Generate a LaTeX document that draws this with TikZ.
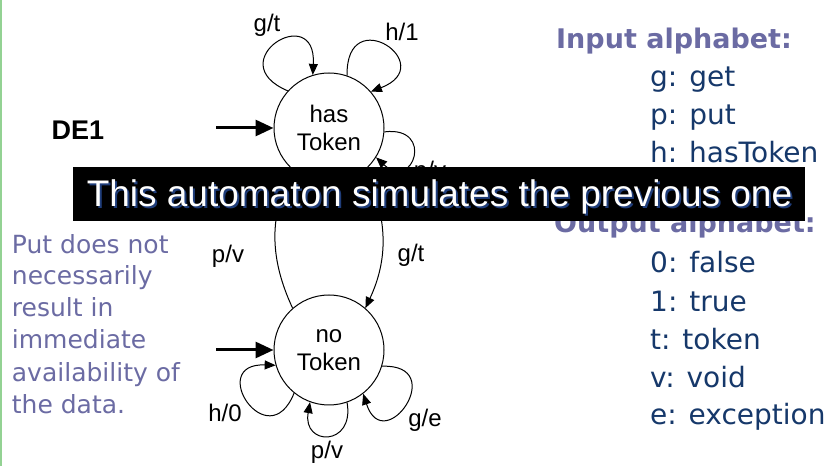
\documentclass[tikz,border=0pt]{standalone}
\usepackage{fontspec}
\usepackage{tikz}
\usetikzlibrary{arrows.meta}

\newfontfamily\arialfont{Liberation Sans}
\newfontfamily\listfont{DejaVu Sans}
\newcommand{\grfont}{\arialfont\fontsize{24}{27.5}\selectfont}
\newcommand{\notefont}{\listfont\fontsize{25}{30}\selectfont}
\newcommand{\itemfont}{\listfont\fontsize{28}{34}\selectfont}
\newcommand{\headfont}{\listfont\bfseries\fontsize{27}{32}\selectfont}
\newcommand{\bannerfont}{\arialfont\fontsize{37}{44}\selectfont}

\definecolor{notepurple}{HTML}{6B6BA3}
\definecolor{itemnavy}{HTML}{16386A}
\definecolor{rulegreen}{HTML}{93D293}
\definecolor{shadownavy}{HTML}{1F3D7A}

\tikzset{
  state/.style={circle,draw,line width=1pt,minimum size=110pt,inner sep=0pt,align=center,font=\grfont},
  trans/.style={-{Triangle[length=11pt,width=9pt]},line width=1pt},
  startarrow/.style={-{Triangle[length=18pt,width=16pt]},line width=3pt},
  lbl/.style={font=\grfont,inner sep=0pt},
  note/.style={font=\notefont,text=notepurple,anchor=base west,inner sep=0pt},
  listhead/.style={font=\headfont,text=notepurple,anchor=base west,inner sep=0pt},
  listitem/.style={font=\itemfont,text=itemnavy,anchor=base west,inner sep=0pt},
}

\begin{document}
\begin{tikzpicture}[x=1pt,y=1pt]
\useasboundingbox (0,0) rectangle (836,466);
\draw[rulegreen,line width=2pt] (1,0) -- (1,466);

\node[font=\arialfont\bfseries\fontsize{27}{32}\selectfont] (name) at (78,335.5) {DE1};

\node[state] (has) at (329,338) {has\\Token};
\node[state] (no) at (329,116) {no\\Token};

\coordinate (hasstart) at (216,338);
\coordinate (nostart) at (216,116);
\draw[startarrow] (hasstart) -- (has);
\draw[startarrow] (nostart) -- (no);

\draw[trans] (has.138) to[out=157,in=87,distance=75pt] (has.107);
\draw[trans] (has.71) to[out=91,in=21,distance=75pt] (has.41);
\draw[trans] (has.356) to[out=7,in=317,distance=51pt] (has.328);
\draw[trans] (no.131) to[out=115,in=245] (has.229);
\draw[trans] (has.311) to[out=295,in=65] (no.49);
\draw[trans] (no.231) to[out=248,in=178,distance=70pt] (no.196);
\draw[trans] (no.289) to[out=280,in=260,distance=45pt] (no.250);
\draw[trans] (no.343) to[out=2,in=288,distance=68pt] (no.308);

\node[lbl] (gtloop) at (267,441) {g/t};
\node[lbl] (hone) at (402,434) {h/1};
\node[lbl] (pvloop) at (430,294) {p/v};
\node[lbl] (pvup) at (228,210) {p/v};
\node[lbl] (gtdown) at (411,211) {g/t};
\node[lbl] (hzero) at (225,53) {h/0};
\node[lbl] (pvbottom) at (327,14) {p/v};
\node[lbl] (ge) at (425,46) {g/e};

\node[note] (note1) at (11.7,212.7) {Put does not};
\node[note] (note2) at (11.7,181) {necessarily};
\node[note] (note3) at (11.7,149.3) {result in};
\node[note] (note4) at (11.7,117) {immediate};
\node[note] (note5) at (11.7,84.3) {availability of};
\node[note] (note6) at (11.7,52) {the data.};

\node[listhead] (inhead) at (556,417) {Input alphabet:};
\node[listitem] (ing) at (650,379.3) {g: get};
\node[listitem] (inp) at (650,341) {p: put};
\node[listitem] (inh) at (650,303.3) {h: hasToken};
\node[listhead] (outhead) at (554,233.3) {Output alphabet:};
\node[listitem] (outf) at (650,193.3) {0: false};
\node[listitem] (outt) at (650,154.3) {1: true};
\node[listitem] (outtok) at (650,116) {t: token};
\node[listitem] (outv) at (650,78.3) {v: void};
\node[listitem] (oute) at (650,41) {e: exception};

\node[fill=black,minimum width=732pt,minimum height=54pt,inner sep=0pt] (banner) at (439,272) {};
\node[font=\bannerfont,text=shadownavy,anchor=base,inner sep=0pt] (bannershadow) at (441.5,257.5) {This automaton simulates the previous one};
\node[font=\bannerfont,text=white,anchor=base,inner sep=0pt] (bannertext) at (439.5,259.3) {This automaton simulates the previous one};
\end{tikzpicture}
\end{document}
